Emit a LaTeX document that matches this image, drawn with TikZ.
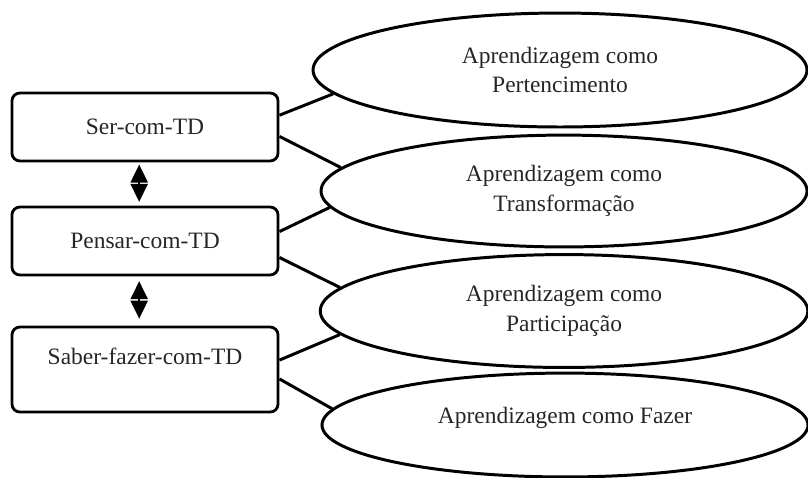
\documentclass[tikz,border=0pt]{standalone}
\usepackage{fontspec}
\setmainfont{Liberation Serif}
\usetikzlibrary{shapes.geometric,arrows.meta}
\begin{document}
\begin{tikzpicture}
            \useasboundingbox (0,0) rectangle (15.245,-9.0);
            \begin{scope}[every node/.style={draw,line width=1.5pt,rounded corners=0.15cm,minimum width=5.02cm,minimum height=1.283cm,inner sep=0pt,text=black!85,font=\fontsize{12.6}{14}\selectfont}]
                \node (ser) at (2.736,-2.396) {Ser-com-TD};
                \node (pensar) at (2.736,-4.547) {Pensar-com-TD};
                \node[minimum height=1.604cm,text height=8pt,text depth=13.4pt] (saber) at (2.736,-6.972) {Saber-fazer-com-TD};
            \end{scope}
            \begin{scope}[every node/.style={ellipse,draw,line width=1.6pt,inner sep=0pt,align=center,text=black!85,font=\fontsize{12.6}{16}\selectfont}]
                \node[minimum width=9.32cm,minimum height=2.15cm] (pert) at (10.566,-1.321) {Aprendizagem como\\Pertencimento};
                \node[minimum width=9.17cm,minimum height=2.11cm] (transf) at (10.642,-3.604) {Aprendizagem como\\Transformação};
                \node[minimum width=9.2cm,minimum height=2.13cm] (partic) at (10.642,-5.868) {Aprendizagem como\\Participação};
                \node[minimum width=9.17cm,minimum height=1.96cm,text height=8pt,text depth=10pt] (fazer) at (10.66,-8.019) {Aprendizagem como Fazer};
            \end{scope}
            \begin{scope}[every edge/.style={draw=black,line width=1.6pt}]
                \path (ser.5) edge (pert.186.5);
                \path (ser.356) edge (transf.174);
                \path (pensar.4) edge (transf.184.6);
                \path (pensar.353) edge (partic.174);
                \path (saber.4) edge (partic.186);
                \path (saber.356) edge (fazer.176.3);
            \end{scope}
            \begin{scope}[every edge/.style={draw=black,line width=1.2pt,{Triangle[width=0.32cm,length=0.34cm]}-{Triangle[width=0.32cm,length=0.34cm]}}]
                \path ([xshift=-0.11cm]ser.south) edge[shorten <=0.04cm,shorten >=0.07cm] ([xshift=-0.11cm]pensar.north);
                \path ([xshift=-0.11cm]pensar.south) edge[shorten <=0.09cm,shorten >=0.13cm] ([xshift=-0.11cm]saber.north);
            \end{scope}
        \end{tikzpicture}
\end{document}
